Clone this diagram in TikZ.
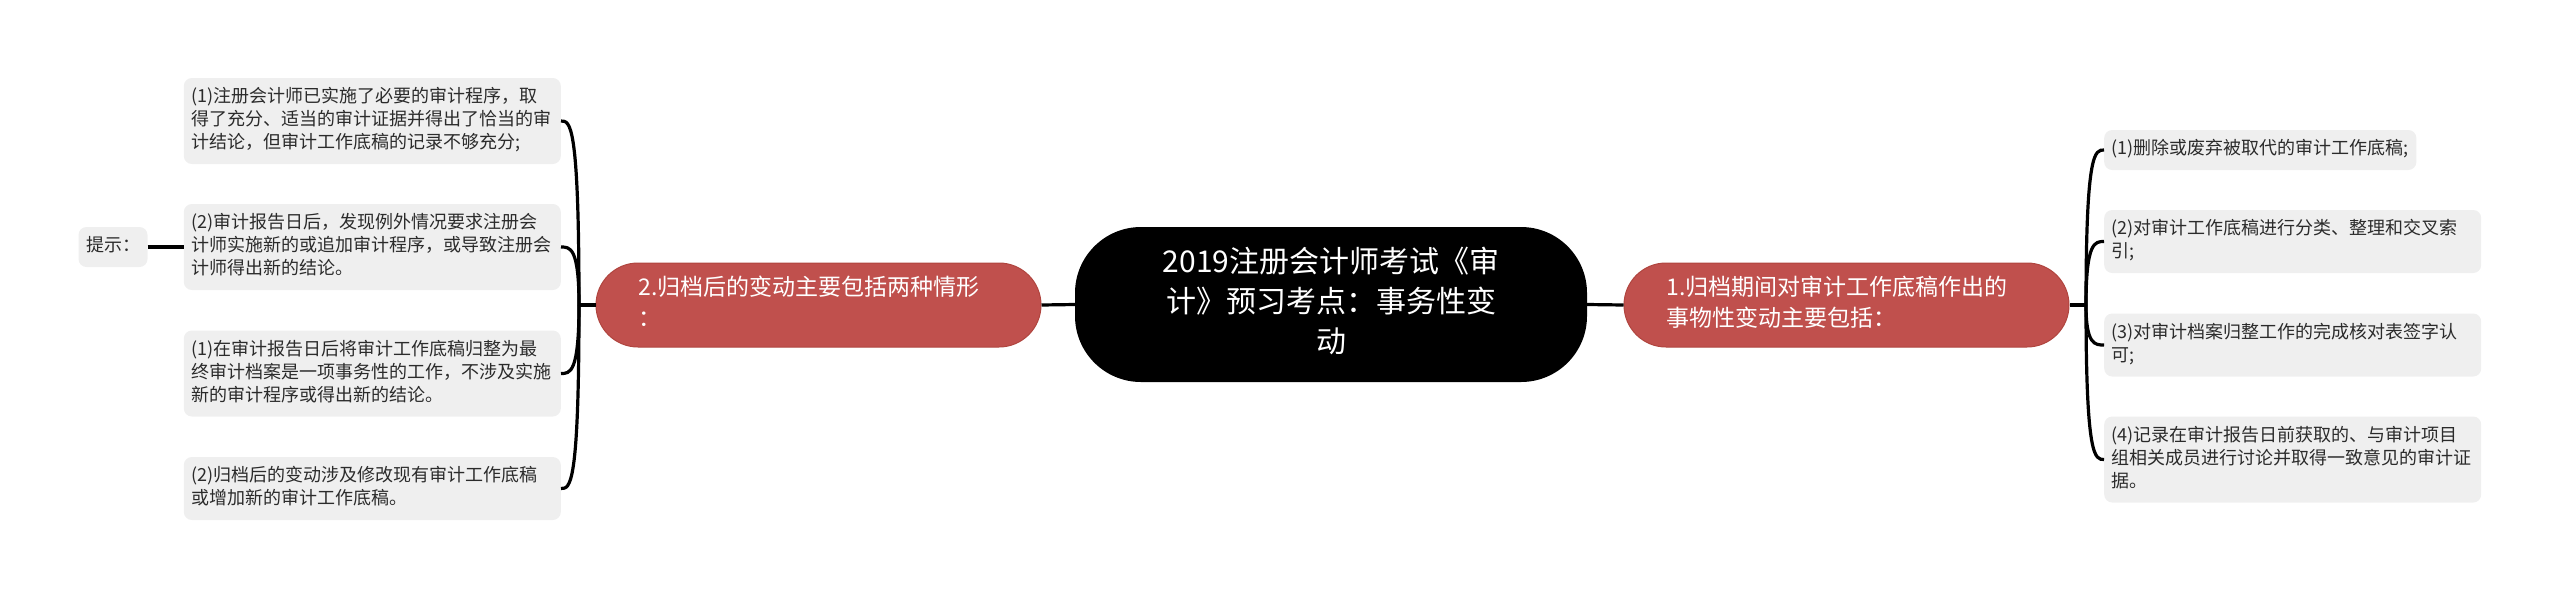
\documentclass[tikz,border=0pt]{standalone}
\usepackage{fontspec}
\newfontfamily\cjk{Noto Sans CJK SC}
\usetikzlibrary{calc}
\definecolor{leafgray}{HTML}{EFEFEF}
\definecolor{leaftext}{HTML}{2B2B2B}
\definecolor{topicred}{HTML}{C0504D}
\definecolor{topicedge}{HTML}{B0453F}
\begin{document}
\begin{tikzpicture}[x=1pt,y=-1pt,
    link/.style={line width=3.2pt},
    shortleaf/.style={fill=leafgray, text=leaftext, rounded corners=8pt,
        inner xsep=7.5pt, inner ysep=8.5pt,
        font=\cjk\fontsize{18}{23}\selectfont,
        execute at begin node=\strut, execute at end node=\strut},
    leaf/.style={shortleaf, text width=362pt, align=left},
    topic/.style={fill=topicred, draw=topicedge, line width=1pt, text=white,
        rounded corners=42pt, text width=360pt, align=left,
        inner xsep=42.5pt, inner ysep=11pt,
        font=\cjk\fontsize{23}{31}\selectfont,
        execute at begin node=\strut, execute at end node=\strut},
    central/.style={fill=black, text=white, rounded corners=66pt,
        text width=360pt, align=center, inner xsep=76pt, inner ysep=17.5pt,
        font=\cjk\fontsize{30}{40}\selectfont,
        execute at begin node=\strut, execute at end node=\strut}]
    \useasboundingbox (0,0) rectangle (2560,598);

    % Central topic
    \node[central] (main) at (1331,304.5) {2019注册会计师考试《审\\计》预习考点：事务性变\\动};

    % Main branches
    \node[topic] (left) at (818.5,305) {2.归档后的变动主要包括两种情形\\：};
    \node[topic] (right) at (1846.5,305) {1.归档期间对审计工作底稿作出的\\事物性变动主要包括：};

    % Left leaves
    \node[leaf, anchor=east] (L1) at (561,121) {(1)注册会计师已实施了必要的审计程序，取\\得了充分、适当的审计证据并得出了恰当的审\\计结论，但审计工作底稿的记录不够充分;};
    \node[leaf, anchor=east] (L2) at (561,247) {(2)审计报告日后，发现例外情况要求注册会\\计师实施新的或追加审计程序，或导致注册会\\计师得出新的结论。};
    \node[leaf, anchor=east] (L3) at (561,373.5) {(1)在审计报告日后将审计工作底稿归整为最\\终审计档案是一项事务性的工作，不涉及实施\\新的审计程序或得出新的结论。};
    \node[leaf, anchor=east] (L4) at (561,488.5) {(2)归档后的变动涉及修改现有审计工作底稿\\或增加新的审计工作底稿。};
    \node[shortleaf] (tip) at (113,247) {提示：};

    % Right leaves
    \node[shortleaf, anchor=west] (R1) at (2104,150) {(1)删除或废弃被取代的审计工作底稿;};
    \node[leaf, anchor=west] (R2) at (2104,241.5) {(2)对审计工作底稿进行分类、整理和交叉索\\引;};
    \node[leaf, anchor=west] (R3) at (2104,345) {(3)对审计档案归整工作的完成核对表签字认\\可;};
    \node[leaf, anchor=west] (R4) at (2104,459.5) {(4)记录在审计报告日前获取的、与审计项目\\组相关成员进行讨论并取得一致意见的审计证\\据。};

    % Connectors
    \coordinate (jL) at (579,305);
    \coordinate (jR) at (2086,305);
    \draw[link] (main.west) -- (left.east);
    \draw[link] (main.east) -- (right.west);
    \draw[link] (left.west) -- (jL);
    \draw[link] (right.east) -- (jR);
    \foreach \n in {L1,L2,L3,L4} {
        \draw[link] (jL) .. controls (jL |- \n.east) and ([xshift=9pt]\n.east) .. (\n.east);
    }
    \foreach \n in {R1,R2,R3,R4} {
        \draw[link] (jR) .. controls (jR |- \n.west) and ([xshift=-9pt]\n.west) .. (\n.west);
    }
    \draw[link] (tip.east) -- (L2.west);
\end{tikzpicture}
\end{document}
